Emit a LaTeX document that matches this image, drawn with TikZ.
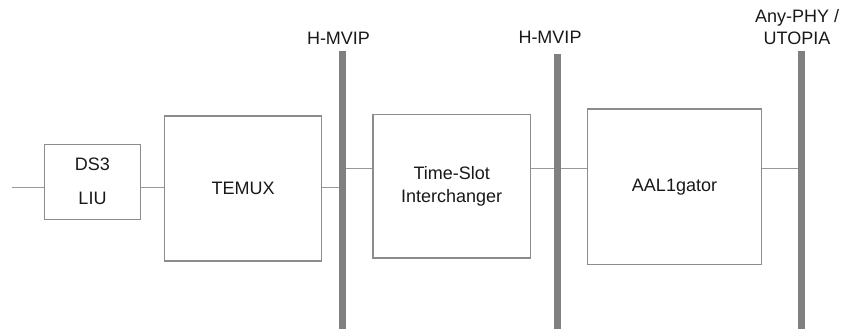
\documentclass[tikz,border=0pt]{standalone}
\usepackage{fontspec}
\setmainfont{Liberation Sans}
\usepackage{tikz}

\begin{document}
\begin{tikzpicture}[x=1pt,y=-1pt,
  blk/.style={draw=black!45,line width=1.2pt,fill=white,inner sep=0pt,text=black!90,align=center,font=\fontsize{18}{23.3}\selectfont},
  bus/.style={fill=black!50,inner sep=0pt,minimum width=7pt},
  lbl/.style={inner sep=0pt,text=black!90,align=center,font=\fontsize{18}{21.7}\selectfont},
  wire/.style={draw=black!40,line width=1.2pt}]
\useasboundingbox (0,0) rectangle (845,329);

\node[blk,minimum width=95.6pt,minimum height=75pt,font=\fontsize{18}{34}\selectfont] (ds3) at (92.5,181.8) {DS3\\LIU};
\node[blk,minimum width=157.2pt,minimum height=145pt] (temux) at (243.1,188.5) {TEMUX};
\node[blk,minimum width=157.3pt,minimum height=143.3pt] (tsi) at (451.7,186.3) {Time-Slot\\Interchanger};
\node[blk,minimum width=174.4pt,minimum height=155.3pt] (aal) at (674.5,186.7) {AAL1gator};

\node[bus,minimum height=278pt] (hm1) at (342.5,190) {};
\node[bus,minimum height=275pt] (hm2) at (557.5,191.5) {};
\node[bus,minimum height=278pt] (any) at (801.5,190) {};

\node[lbl,anchor=base] (hm1l) at (338.5,44.3) {H-MVIP};
\node[lbl,anchor=base] (hm2l) at (550,44) {H-MVIP};
\node[lbl,anchor=south] (anyl) at (797,45) {Any-PHY /\\UTOPIA};

\coordinate (in) at (12,187.3);
\coordinate (mid) at (0,168.5);
\draw[wire] (in) -- (in -| ds3.west);
\draw[wire] (ds3.east |- in) -- (temux.west |- in);
\draw[wire] (temux.east |- in) -- (hm1.west |- in);
\draw[wire] (hm1.east |- mid) -- (tsi.west |- mid);
\draw[wire] (tsi.east |- mid) -- (hm2.west |- mid);
\draw[wire] (hm2.east |- mid) -- (aal.west |- mid);
\draw[wire] (aal.east |- mid) -- (any.west |- mid);
\end{tikzpicture}
\end{document}
